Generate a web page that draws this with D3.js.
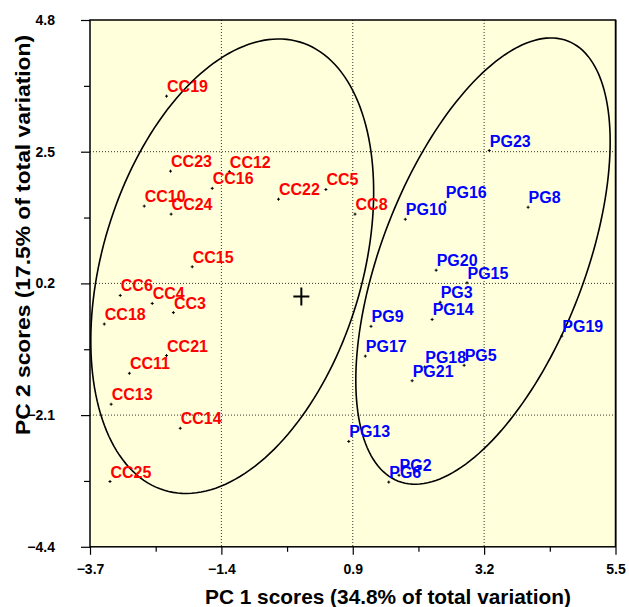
<!DOCTYPE html>
<html>
<head>
<meta charset="utf-8">
<script src="https://cdn.jsdelivr.net/npm/d3@7"></script>
<style>
  html, body { margin: 0; padding: 0; background: #ffffff; }
  svg { display: block; }
  text { font-family: "Liberation Sans", Arial, Helvetica, sans-serif; font-weight: bold; }
</style>
</head>
<body>
<svg id="chart" width="629" height="607"></svg>
<script>
// ---------- data ----------
const ccLabels = ["CC19","CC23","CC12","CC16","CC10","CC24","CC22","CC5","CC8","CC15","CC6","CC4","CC3","CC18","CC21","CC11","CC13","CC14","CC25"];
const ccPC1 = [-2.36,-2.29,-1.26,-1.56,-2.75,-2.28,-0.40,0.43,0.94,-1.91,-3.17,-2.61,-2.24,-3.45,-2.36,-3.01,-3.33,-2.12,-3.35];
const ccPC2 = [3.47,2.16,2.15,1.86,1.55,1.41,1.67,1.84,1.41,0.49,-0.01,-0.15,-0.31,-0.51,-1.06,-1.37,-1.91,-2.33,-3.26];

const pgLabels = ["PG23","PG16","PG8","PG10","PG20","PG15","PG3","PG14","PG9","PG19","PG17","PG18","PG5","PG21","PG13","PG2","PG6"];
const pgPC1 = [3.29,2.52,3.97,1.82,2.36,2.90,2.43,2.29,1.22,4.56,1.12,2.16,2.85,1.94,0.83,1.71,1.53];
const pgPC2 = [2.52,1.62,1.53,1.32,0.43,0.21,-0.13,-0.43,-0.55,-0.72,-1.07,-1.26,-1.23,-1.50,-2.56,-3.15,-3.27];

// group ellipses: centre (PC1, PC2), semi-axes (PC units), tilt (degrees)
const ellipseCx = [-1.21, 3.18];
const ellipseCy = [0.50, 0.59];
const ellipseA = [4.09, 4.12];
const ellipseB = [2.27, 1.78];
const ellipseAngle = [73.1, 68.9];

const centroid = [0.0, -0.03];

const xTicks = [-3.7, -1.4, 0.9, 3.2, 5.5];
const yTicks = [4.8, 2.5, 0.2, -2.1, -4.4];
const xTitle = "PC 1 scores (34.8% of total variation)";
const yTitle = "PC 2  scores (17.5% of total variation)";

// ---------- layout ----------
const svg = d3.select("#chart");
const L = 90, R = 615.5, T = 20, B = 546.8;
const x = d3.scaleLinear().domain([-3.7, 5.5]).range([L, R]);
const y = d3.scaleLinear().domain([-4.4, 4.8]).range([B, T]);

// background
svg.append("rect").attr("x", L).attr("y", T).attr("width", R - L).attr("height", B - T)
  .attr("fill", "#ffffdc");

// grid (interior majors)
const g = svg.append("g");
xTicks.slice(1, -1).forEach(v => {
  g.append("line").attr("x1", x(v)).attr("x2", x(v)).attr("y1", T).attr("y2", B)
    .attr("stroke", "#000").attr("stroke-width", 0.8).attr("stroke-dasharray", "1,2");
});
yTicks.slice(1, -1).forEach(v => {
  g.append("line").attr("x1", L).attr("x2", R).attr("y1", y(v)).attr("y2", y(v))
    .attr("stroke", "#000").attr("stroke-width", 0.8).attr("stroke-dasharray", "1,2");
});

// axes
const minorX = d3.range(0, 4).map(i => (xTicks[i] + xTicks[i + 1]) / 2);
const minorY = d3.range(0, 4).map(i => (yTicks[i] + yTicks[i + 1]) / 2);

const xAxis = d3.axisBottom(x).tickValues(xTicks).tickSize(8).tickPadding(9).tickFormat(d3.format(".1f"));
const xMinor = d3.axisBottom(x).tickValues(minorX).tickSize(5).tickFormat("");
const yAxis = d3.axisLeft(y).tickValues(yTicks).tickSize(9).tickPadding(26).tickFormat(d3.format(".1f"));
const yMinor = d3.axisLeft(y).tickValues(minorY).tickSize(6).tickFormat("");

function styleAxis(sel) {
  sel.selectAll("path").attr("stroke", "#000").attr("stroke-width", 1.5);
  sel.selectAll("line").attr("stroke", "#000").attr("stroke-width", 1.2);
  sel.selectAll("text").attr("fill", "#000").style("font-size", "14px")
    .style("font-family", "'Liberation Sans', Arial, sans-serif").style("font-weight", "bold");
}
svg.append("g").attr("transform", `translate(0,${B})`).call(xMinor).call(styleAxis);
svg.append("g").attr("transform", `translate(0,${B})`).call(xAxis).call(styleAxis);
svg.append("g").attr("transform", `translate(${L},0)`).call(yMinor).call(styleAxis);
svg.append("g").attr("transform", `translate(${L},0)`).call(yAxis).call(styleAxis);
svg.selectAll(".domain").attr("d", null);

// frame
svg.append("rect").attr("x", L).attr("y", T).attr("width", R - L).attr("height", B - T)
  .attr("fill", "none").attr("stroke", "#000").attr("stroke-width", 1.5);
svg.append("line").attr("x1", R + 1).attr("x2", R + 1).attr("y1", T).attr("y2", B + 1)
  .attr("stroke", "#666").attr("stroke-width", 1);

// ellipses
const line = d3.line().x(d => x(d[0])).y(d => y(d[1])).curve(d3.curveLinearClosed);
ellipseCx.forEach((cx, i) => {
  const th = ellipseAngle[i] * Math.PI / 180;
  const pts = d3.range(0, 360, 2).map(t => {
    const r = t * Math.PI / 180;
    const u = ellipseA[i] * Math.cos(r), v = ellipseB[i] * Math.sin(r);
    return [cx + u * Math.cos(th) - v * Math.sin(th), ellipseCy[i] + u * Math.sin(th) + v * Math.cos(th)];
  });
  svg.append("path").attr("d", line(pts)).attr("fill", "none")
    .attr("stroke", "#000").attr("stroke-width", 1.6);
});

// centroid cross
svg.append("path")
  .attr("d", `M${x(centroid[0]) - 8},${y(centroid[1])}H${x(centroid[0]) + 8}M${x(centroid[0])},${y(centroid[1]) - 9}V${y(centroid[1]) + 9}`)
  .attr("stroke", "#000").attr("stroke-width", 2);

// points + labels
function drawGroup(labels, xs, ys, color) {
  const data = labels.map((l, i) => ({ l, px: xs[i], py: ys[i] }));
  const grp = svg.append("g");
  grp.selectAll("path.pt").data(data).enter().append("path")
    .attr("d", d => `M${x(d.px) - 1.5},${y(d.py)}H${x(d.px) + 1.5}M${x(d.px)},${y(d.py) - 1.5}V${y(d.py) + 1.5}`)
    .attr("stroke", "#000").attr("stroke-width", 1);
  grp.selectAll("text").data(data).enter().append("text")
    .attr("x", d => x(d.px) + 0.5).attr("y", d => y(d.py) - 4)
    .attr("fill", color).style("font-size", "16px").text(d => d.l);
}
drawGroup(ccLabels, ccPC1, ccPC2, "#ff0000");
drawGroup(pgLabels, pgPC1, pgPC2, "#0000ff");

// titles
svg.append("text").attr("x", 388).attr("y", 604).attr("text-anchor", "middle")
  .attr("textLength", 366).attr("lengthAdjust", "spacingAndGlyphs")
  .style("font-size", "21px").attr("fill", "#000").text(xTitle);
svg.append("text").attr("transform", "translate(30,235) rotate(-90)").attr("text-anchor", "middle")
  .attr("textLength", 400).attr("lengthAdjust", "spacingAndGlyphs")
  .style("font-size", "21px").attr("fill", "#000").text(yTitle);
</script>
</body>
</html>
